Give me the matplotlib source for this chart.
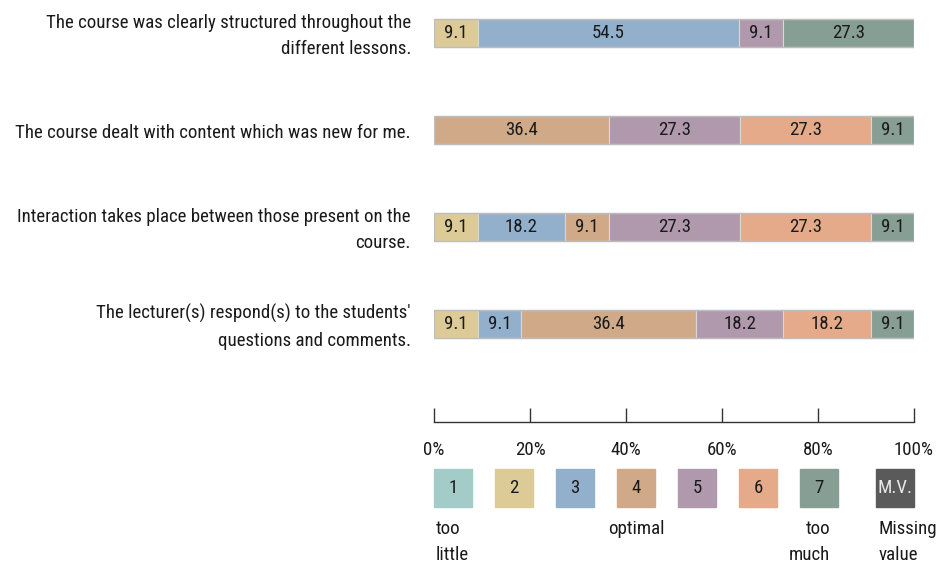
import matplotlib
matplotlib.use("Agg")
import matplotlib.pyplot as plt
from matplotlib.patches import Rectangle

plt.rcParams['font.family'] = ['Roboto Condensed', 'DejaVu Sans']

questions = [
    "The course was clearly structured throughout the\ndifferent lessons.",
    "The course dealt with content which was new for me.",
    "Interaction takes place between those present on the\ncourse.",
    "The lecturer(s) respond(s) to the students'\nquestions and comments.",
]
levels = ["1", "2", "3", "4", "5", "6", "7", "M.V."]
colors = ["#A3CCC9", "#DCCB96", "#92AFCB", "#D0AA88", "#B099AD", "#E4AA8A", "#879E94", "#5A5A5A"]
# percentages per level (1..7, M.V.) for each question
values = [
    [0, 9.1, 54.5, 0, 9.1, 0, 27.3, 0],
    [0, 0, 0, 36.4, 27.3, 27.3, 9.1, 0],
    [0, 9.1, 18.2, 9.1, 27.3, 27.3, 9.1, 0],
    [0, 9.1, 9.1, 36.4, 18.2, 18.2, 9.1, 0],
]
xticks = [0, 20, 40, 60, 80, 100]
xticklabels = ["0%", "20%", "40%", "60%", "80%", "100%"]
legend_notes = {0: "too\nlittle", 3: "optimal", 6: "too\nmuch", 7: "Missing\nvalue"}

W, H = 938, 574
fig = plt.figure(figsize=(W / 100, H / 100), dpi=100)
txt = "#1a1a1a"
FS = 13.6

# main axes: x 434..914 px, y 0..422 px from top
ax = fig.add_axes([434 / W, (H - 422) / H, 480 / W, 422 / H])
spacing = 97.0
ax.set_ylim((422 - 33) / spacing, -33 / spacing)
ax.set_xlim(0, 100)
bh = 28 / spacing

for i, row in enumerate(values):
    left = 0
    for j, v in enumerate(row):
        if v > 0:
            ax.barh(i, v, left=left, height=bh, color=colors[j], edgecolor="#d8d8d8", linewidth=0.8)
            ax.text(left + v / 2, i, f"{v:.1f}", ha="center", va="center", fontsize=FS, color=txt)
            left += v
    ax.add_patch(Rectangle((0, i - bh / 2), 100, bh, fill=False, edgecolor="#bdbdbd", linewidth=1.0))
    ax.text(-4.8, i + 0.03, questions[i], ha="right", va="center", fontsize=FS, color=txt,
            linespacing=1.6, clip_on=False)

for s in ["top", "right", "left"]:
    ax.spines[s].set_visible(False)
ax.spines["bottom"].set_color("#333333")
ax.spines["bottom"].set_linewidth(1.0)
ax.set_yticks([])
ax.set_xticks(xticks)
ax.set_xticklabels(xticklabels, fontsize=FS, color=txt)
ax.tick_params(axis="x", direction="in", length=10, width=1.0, color="#333333", pad=14)

# legend boxes
lax = fig.add_axes([0, 0, 1, 1])
lax.set_xlim(0, W)
lax.set_ylim(H, 0)
lax.axis("off")
box_x = [434, 495, 556, 617, 678, 739, 800, 876]
for k, (lv, c) in enumerate(zip(levels, colors)):
    x0 = box_x[k]
    lax.add_patch(Rectangle((x0, 469), 38, 38, color=c))
    lax.text(x0 + 19, 488, lv, ha="center", va="center", fontsize=FS,
             color="#e8e8e8" if k == 7 else txt)
kw = dict(va="top", fontsize=FS, color=txt, linespacing=1.55)
lax.text(436, 520, legend_notes[0], ha="left", **kw)
lax.text(608, 520, legend_notes[3], ha="left", **kw)
lax.text(830, 520, legend_notes[6], ha="right", multialignment="right", **kw)
lax.text(879, 520, legend_notes[7], ha="left", **kw)

fig.savefig("out.png", dpi=100)
